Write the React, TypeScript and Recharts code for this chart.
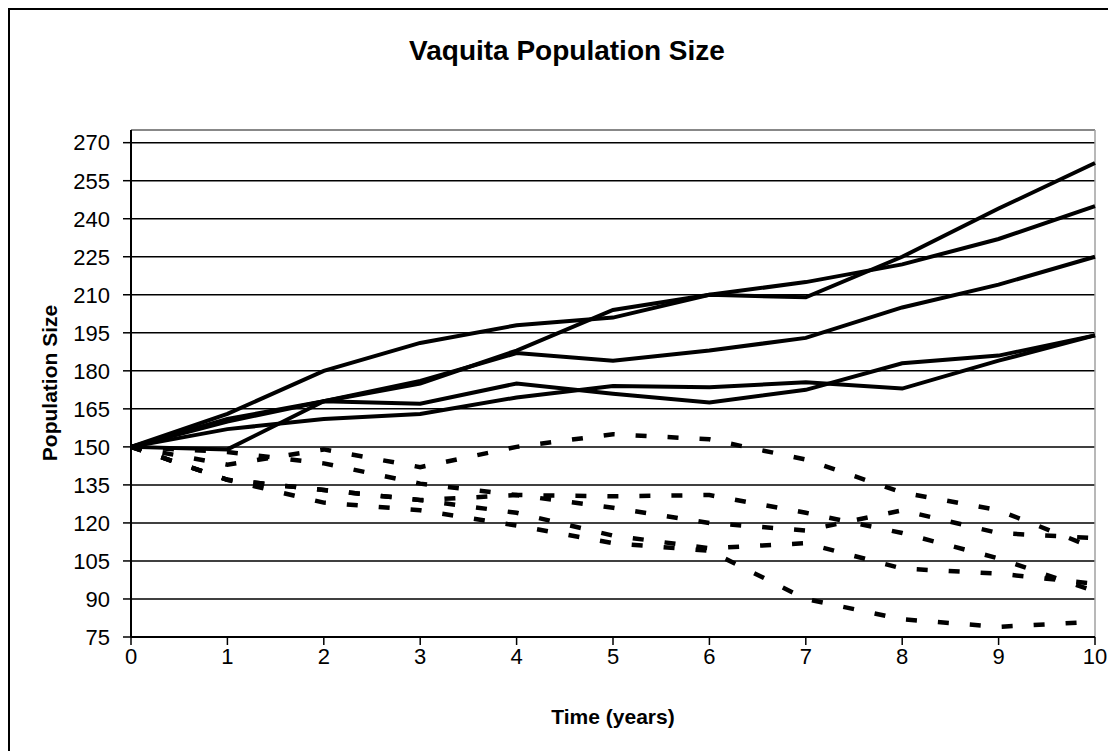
import React from 'react';
import { LineChart, Line, XAxis, YAxis, CartesianGrid, ReferenceLine } from 'recharts';

const years = [0, 1, 2, 3, 4, 5, 6, 7, 8, 9, 10];
const yTicks = [75, 90, 105, 120, 135, 150, 165, 180, 195, 210, 225, 240, 255, 270];

// growing runs (solid)
const solidA = [150, 163, 180, 191, 198, 201, 210, 215, 222, 232, 245];
const solidB = [150, 149, 168, 175, 188, 204, 210, 209, 225, 244, 262];
const solidC = [150, 161, 168, 176, 187, 184, 188, 193, 205, 214, 225];
const solidD = [150, 160, 168, 167, 175, 171, 167.5, 172.5, 183, 186, 194];
const solidE = [150, 157, 161, 163, 169.5, 174, 173.5, 175.5, 173, 184, 194];

// declining runs (dashed)
const dashA = [150, 143, 149, 142, 150, 155, 153, 145, 132, 125, 110];
const dashB = [150, 148, 143.5, 135.5, 131, 130.5, 131, 124, 116, 106, 93];
const dashC = [150, 137, 133, 129, 131, 126, 120, 117, 125, 116, 114];
const dashD = [150, 137, 133, 129, 124, 115, 110, 112, 102, 100, 96];
const dashE = [150, 137, 128, 125, 119, 112, 109, 90, 82, 79, 81];

const solidSeries = { sA: solidA, sB: solidB, sC: solidC, sD: solidD, sE: solidE };
const dashSeries = { dA: dashA, dB: dashB, dC: dashC, dD: dashD, dE: dashE };

const data = years.map((t, i) => {
  const row: Record<string, number> = { t };
  Object.entries(solidSeries).forEach(([k, v]) => (row[k] = v[i]));
  Object.entries(dashSeries).forEach(([k, v]) => (row[k] = v[i]));
  return row;
});

const font = '"Liberation Sans", Arial, sans-serif';

const App = () => {
  return (
    <div
      style={{
        position: 'relative',
        width: 1114,
        height: 745,
        border: '2px solid #000',
        background: '#fff',
        fontFamily: font,
      }}
    >
      <div
        style={{
          position: 'absolute',
          left: 0,
          width: 1114,
          top: 24,
          textAlign: 'center',
          fontSize: 28,
          fontWeight: 'bold',
          lineHeight: '34px',
        }}
      >
        Vaquita Population Size
      </div>
      <div
        style={{
          position: 'absolute',
          left: 40 - 120,
          top: 373 - 12,
          width: 240,
          textAlign: 'center',
          fontSize: 21,
          fontWeight: 'bold',
          lineHeight: '24px',
          transform: 'rotate(-90deg)',
        }}
      >
        Population Size
      </div>
      <div
        style={{
          position: 'absolute',
          left: 603 - 150,
          width: 300,
          top: 707 - 12,
          textAlign: 'center',
          fontSize: 21,
          fontWeight: 'bold',
          lineHeight: '24px',
        }}
      >
        Time (years)
      </div>
      <LineChart
        width={1114}
        height={745}
        data={data}
        margin={{ top: 120, right: 29, left: 0, bottom: 58 }}
      >
        <CartesianGrid vertical={false} stroke="#000" strokeWidth={1.5} />
        <XAxis
          dataKey="t"
          type="number"
          domain={[0, 10]}
          ticks={years}
          height={60}
          tickSize={8}
          tickMargin={3}
          axisLine={{ stroke: '#000', strokeWidth: 2 }}
          tickLine={{ stroke: '#000', strokeWidth: 1.5 }}
          tick={{ fill: '#000', fontSize: 22, fontFamily: font }}
        />
        <YAxis
          type="number"
          domain={[75, 275]}
          ticks={yTicks}
          width={121}
          tickSize={8}
          tickMargin={13}
          axisLine={{ stroke: '#000', strokeWidth: 2 }}
          tickLine={{ stroke: '#000', strokeWidth: 1.5 }}
          tick={{ fill: '#000', fontSize: 22, fontFamily: font }}
        />
        <ReferenceLine y={275} stroke="#a0a0a0" strokeWidth={1.5} />
        <ReferenceLine x={10} stroke="#a0a0a0" strokeWidth={1.5} />
        {Object.keys(dashSeries).map((k) => (
          <Line
            key={k}
            dataKey={k}
            type="linear"
            stroke="#000"
            strokeWidth={4.5}
            strokeDasharray="11 21"
            dot={false}
            isAnimationActive={false}
          />
        ))}
        {Object.keys(solidSeries).map((k) => (
          <Line
            key={k}
            dataKey={k}
            type="linear"
            stroke="#000"
            strokeWidth={4}
            dot={false}
            isAnimationActive={false}
          />
        ))}
      </LineChart>
    </div>
  );
};

export default App;
